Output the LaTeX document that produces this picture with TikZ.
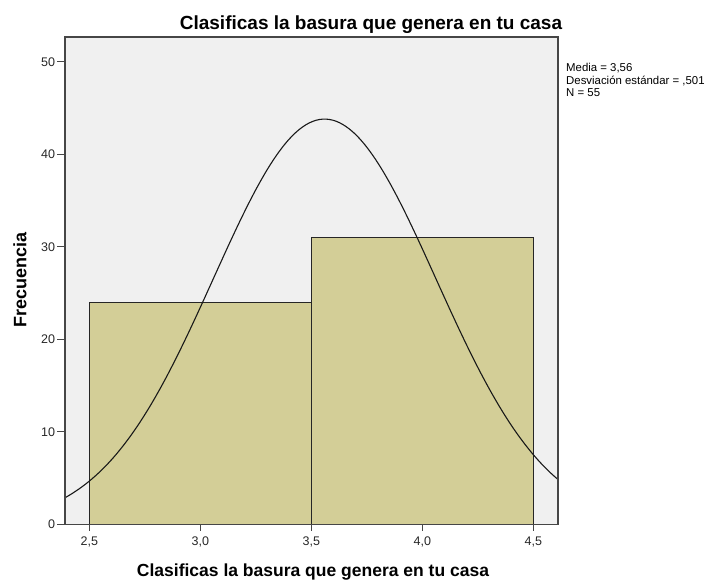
\documentclass[tikz,border=0pt]{standalone}
\usepackage{fontspec}
\setmainfont{Liberation Sans}
\usetikzlibrary{positioning}
\definecolor{barfill}{RGB}{211,206,151}
\definecolor{plotbg}{RGB}{240,240,240}
\definecolor{framegray}{RGB}{70,70,70}

\begin{document}
\begin{tikzpicture}[x=1pt,y=1pt,
    frame/.style={draw=framegray, line width=1.3pt},
    tick/.style={draw=framegray, line width=1pt},
    ticklabel/.style={font=\fontsize{12.5}{12.5}\selectfont, inner sep=0pt, text=black!85},
    axislabel/.style={font=\bfseries\fontsize{17.5}{17.5}\selectfont, inner sep=0pt},
    legendline/.style={font=\fontsize{11.4}{11.4}\selectfont, inner sep=0pt, anchor=base west,
      text height=9pt, text depth=1pt},
    bin/.style={draw=black!85, line width=0.9pt, fill=barfill},
    curve/.style={draw=black!90, line width=1.1pt},
]
\useasboundingbox (0,0) rectangle (726,581);
% titles
\node[axislabel, font=\bfseries\fontsize{19}{19}\selectfont, anchor=base] (title) at (371,551) {Clasificas la basura que genera en tu casa};
\node[axislabel, anchor=base] (xlabel) at (313,4.3) {Clasificas la basura que genera en tu casa};
\node[axislabel, font=\bfseries\fontsize{18}{18}\selectfont, rotate=90] (ylabel) at (20,301) {Frecuencia};
% statistics
\node[legendline] (media) at (566,509.6) {Media = 3,56};
\node[legendline] (desv) at (566,496.8) {Desviación estándar = ,501};
\node[legendline] (n) at (566,484) {N = 55};
% histogram
\begin{scope}[shift={(-465.7pt,56.7pt)}, x=222pt, y=9.25pt]
  \fill[plotbg] (2.3905,0) rectangle (4.611,52.68);
  \draw[bin] (2.5,0) rectangle (3.5,24);
  \draw[bin] (3.5,0) rectangle (4.5,31);
  \draw[curve] plot[domain=2.3905:4.611, samples=150, smooth]
    (\x,{43.796*exp(-((\x-3.56)^2)/0.502002)});
  \draw[frame] (2.3905,0) rectangle (4.611,52.68);
  \foreach \v in {0,10,...,50}
    \draw[tick] (2.3905,\v) -- ++(-8pt,0) node[ticklabel, left=1.5pt] (yt\v) {\v};
  \foreach \v/\l [count=\i] in {2.5/{2,5},3.0/{3,0},3.5/{3,5},4.0/{4,0},4.5/{4,5}}
    \draw[tick] (\v,0) -- ++(0,-7pt) node[ticklabel, below=5pt] (xt\i) {\l};
\end{scope}
\end{tikzpicture}
\end{document}
